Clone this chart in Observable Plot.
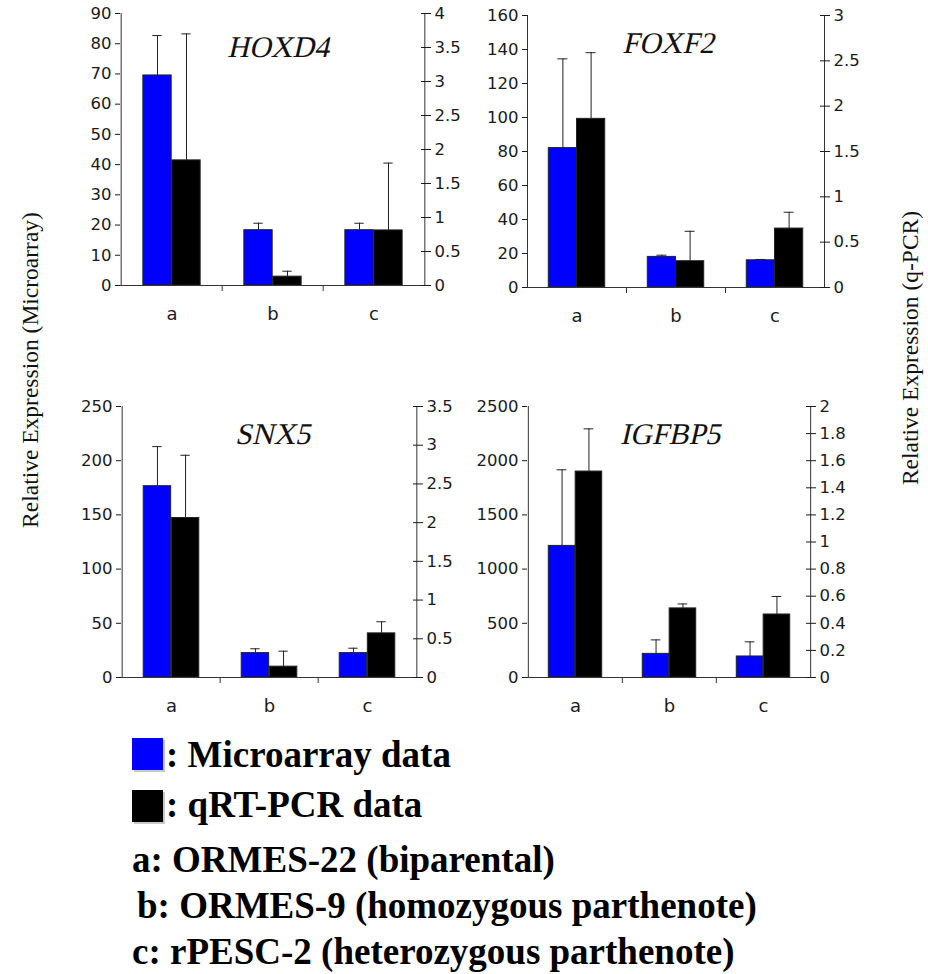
<!DOCTYPE html>
<html><head><meta charset="utf-8">
<script src="https://cdn.jsdelivr.net/npm/d3@7"></script>
<script src="https://cdn.jsdelivr.net/npm/@observablehq/plot@0.6"></script>
<style>
body{margin:0;background:#fff;}
#wrap{position:relative;width:928px;height:974px;overflow:hidden;background:#fff;}
.panel{position:absolute;}
.ylab{position:absolute;font-family:"Liberation Serif";font-size:23.5px;white-space:nowrap;transform:translate(-50%,-50%) rotate(-90deg);color:#111;}
.leg{position:absolute;font-family:"Liberation Serif";font-weight:bold;font-size:37px;line-height:1;white-space:nowrap;color:#000;}
.sw{position:absolute;width:31px;height:32px;box-shadow:2px 2px 0 #c8c8c8;}
</style></head><body><div id="wrap"></div>
<script>
// ---- data ----
const categories = ["a", "b", "c"];
const genes = ["HOXD4", "FOXF2", "SNX5", "IGFBP5"];

const hoxd4Micro = [69.5, 18.3, 18.3];
const hoxd4MicroErr = [13.2, 2.3, 2.3];
const hoxd4Pcr = [1.84, 0.13, 0.81];
const hoxd4PcrErr = [1.86, 0.08, 0.99];

const foxf2Micro = [82, 18, 16];
const foxf2MicroErr = [52.5, 1, 0.5];
const foxf2Pcr = [1.86, 0.29, 0.65];
const foxf2PcrErr = [0.73, 0.33, 0.18];

const snx5Micro = [176.5, 22.5, 22.5];
const snx5MicroErr = [36.5, 4, 4.5];
const snx5Pcr = [2.06, 0.14, 0.57];
const snx5PcrErr = [0.81, 0.2, 0.15];

const igfbp5Micro = [1214, 218, 194];
const igfbp5MicroErr = [702, 129, 135];
const igfbp5Pcr = [1.52, 0.51, 0.465];
const igfbp5PcrErr = [0.315, 0.033, 0.133];

const hoxd4LeftTicks = [0, 10, 20, 30, 40, 50, 60, 70, 80, 90];
const hoxd4RightTicks = [0, 0.5, 1, 1.5, 2, 2.5, 3, 3.5, 4];
const foxf2LeftTicks = [0, 20, 40, 60, 80, 100, 120, 140, 160];
const foxf2RightTicks = [0, 0.5, 1, 1.5, 2, 2.5, 3];
const snx5LeftTicks = [0, 50, 100, 150, 200, 250];
const snx5RightTicks = [0, 0.5, 1, 1.5, 2, 2.5, 3, 3.5];
const igfbp5LeftTicks = [0, 500, 1000, 1500, 2000, 2500];
const igfbp5RightTicks = [0, 0.2, 0.4, 0.6, 0.8, 1, 1.2, 1.4, 1.6, 1.8, 2];

const seriesLabels = ["Microarray data", "qRT-PCR data"];
const seriesColors = ["#0000ff", "#000000"];
const categoryLabels = ["a: ORMES-22 (biparental)", "b: ORMES-9 (homozygous parthenote)", "c: rPESC-2 (heterozygous parthenote)"];

// ---- drawing ----
function panel(o) {
  const mL = 60, mR = 50, mT = 15, mB = 45;
  const width = (o.axisR - o.axisL) + mL + mR;
  const height = (o.y0 - o.yTop) + mT + mB;
  const bw = (o.axisR - o.axisL) / categories.length;
  const lmax = o.leftTicks[o.leftTicks.length - 1];
  const rmax = o.rightTicks[o.rightTicks.length - 1];
  const k = lmax / rmax;
  const rows = categories.map((c, i) => ({
    cat: c, m: o.micro[i], me: o.micro[i] + o.microErr[i],
    p: o.pcr[i] * k, pe: (o.pcr[i] + o.pcrErr[i]) * k
  }));
  const fmt = v => String(+v.toFixed(2));
  const a0 = 0.215, a1 = 0.5, a2 = 0.785;
  const cb = (a0 + a1) / 2, ck = (a1 + a2) / 2;
  const capW = 10;
  const ax = "#333";
  const svg = Plot.plot({
    width, height, marginLeft: mL, marginRight: mR, marginTop: mT, marginBottom: mB,
    style: {fontFamily: "DejaVu Sans", fontSize: "16.5px", background: "transparent", color: "#1a1a1a", overflow: "visible"},
    x: {domain: categories, padding: 0, axis: null},
    y: {domain: [0, lmax], axis: null},
    marks: [
      Plot.barY(rows, {x: "cat", y: "m", fill: seriesColors[0], stroke: "#222", strokeWidth: 1, insetLeft: a0 * bw, insetRight: (1 - a1) * bw}),
      Plot.barY(rows, {x: "cat", y: "p", fill: seriesColors[1], stroke: "#222", strokeWidth: 1, insetLeft: a1 * bw, insetRight: (1 - a2) * bw}),
      Plot.ruleX(rows, {x: "cat", y1: "m", y2: "me", dx: (cb - 0.5) * bw, stroke: "#222"}),
      Plot.tickY(rows, {x: "cat", y: "me", insetLeft: cb * bw - capW / 2, insetRight: (1 - cb) * bw - capW / 2, stroke: "#222"}),
      Plot.ruleX(rows, {x: "cat", y1: "p", y2: "pe", dx: (ck - 0.5) * bw, stroke: "#222"}),
      Plot.tickY(rows, {x: "cat", y: "pe", insetLeft: ck * bw - capW / 2, insetRight: (1 - ck) * bw - capW / 2, stroke: "#222"}),
      Plot.ruleY([0], {stroke: ax}),
      Plot.ruleX([categories[0]], {x: d => d, dx: -bw / 2, stroke: ax}),
      Plot.ruleX([categories[categories.length - 1]], {x: d => d, dx: bw / 2, stroke: ax}),
      Plot.ruleX(categories.slice(1), {x: d => d, dx: -bw / 2, y1: 0, y2: 0, insetBottom: -6, stroke: ax}),
      Plot.axisY({anchor: "left", ticks: o.leftTicks, tickFormat: d => String(d), tickSize: 5, tickPadding: 4, label: null}),
      Plot.axisY({anchor: "right", ticks: o.rightTicks.map(t => t * k), tickFormat: d => fmt(d / k), tickSize: 5, tickPadding: 4, label: null}),
      Plot.axisY({anchor: "right", ticks: o.rightTicks.map(t => t * k), tickFormat: () => "", tickSize: 5, dx: -5, label: null}),
      Plot.axisX({anchor: "bottom", tickSize: 0, tickPadding: 22, fontSize: 18, label: null}),
      Plot.text([o.gene], {frameAnchor: "top", text: d => d, dx: o.titleDx, dy: o.titleDy, fontSize: 30, fill: "#111", fontFamily: "Liberation Serif"})
    ]
  });
  // give the serif title a slant (italic look) without moving it
  Array.from(svg.querySelectorAll("text")).filter(t => t.textContent === o.gene).forEach(t => {
    const tr = t.getAttribute("transform");
    t.setAttribute("transform", (tr ? tr + " " : "") + "skewX(-13)");
  });
  svg.classList.add("panel");
  svg.style.left = (o.axisL - mL) + "px";
  svg.style.top = (o.yTop - mT) + "px";
  svg.style.position = "absolute";
  return svg;
}

const wrap = document.getElementById("wrap");
const panels = [
  {gene: genes[0], micro: hoxd4Micro, microErr: hoxd4MicroErr, pcr: hoxd4Pcr, pcrErr: hoxd4PcrErr, leftTicks: hoxd4LeftTicks, rightTicks: hoxd4RightTicks, axisL: 120, axisR: 425, yTop: 13, y0: 285, titleDx: 10, titleDy: 22},
  {gene: genes[1], micro: foxf2Micro, microErr: foxf2MicroErr, pcr: foxf2Pcr, pcrErr: foxf2PcrErr, leftTicks: foxf2LeftTicks, rightTicks: foxf2RightTicks, axisL: 527, axisR: 824, yTop: 15, y0: 287, titleDx: -3, titleDy: 16},
  {gene: genes[2], micro: snx5Micro, microErr: snx5MicroErr, pcr: snx5Pcr, pcrErr: snx5PcrErr, leftTicks: snx5LeftTicks, rightTicks: snx5RightTicks, axisL: 121, axisR: 417, yTop: 406, y0: 677, titleDx: 8, titleDy: 16},
  {gene: genes[3], micro: igfbp5Micro, microErr: igfbp5MicroErr, pcr: igfbp5Pcr, pcrErr: igfbp5PcrErr, leftTicks: igfbp5LeftTicks, rightTicks: igfbp5RightTicks, axisL: 527, axisR: 810, yTop: 406, y0: 677, titleDx: 6, titleDy: 16}
];
for (const p of panels) wrap.appendChild(panel(p));

function addDiv(cls, text, css) {
  const d = document.createElement("div");
  d.className = cls;
  if (text) d.textContent = text;
  Object.assign(d.style, css);
  wrap.appendChild(d);
}
addDiv("ylab", "Relative Expression (Microarray)", {left: "30px", top: "370px"});
addDiv("ylab", "Relative Expression (q-PCR)", {left: "910px", top: "348px"});

addDiv("sw", "", {left: "132px", top: "738px", background: seriesColors[0]});
addDiv("sw", "", {left: "132px", top: "790px", background: seriesColors[1]});
addDiv("leg", ": " + seriesLabels[0], {left: "166px", top: "736px"});
addDiv("leg", ": " + seriesLabels[1], {left: "166px", top: "786px"});
addDiv("leg", categoryLabels[0], {left: "132px", top: "841px"});
addDiv("leg", categoryLabels[1], {left: "137px", top: "887px"});
addDiv("leg", categoryLabels[2], {left: "132px", top: "933px"});
</script>
</body></html>
